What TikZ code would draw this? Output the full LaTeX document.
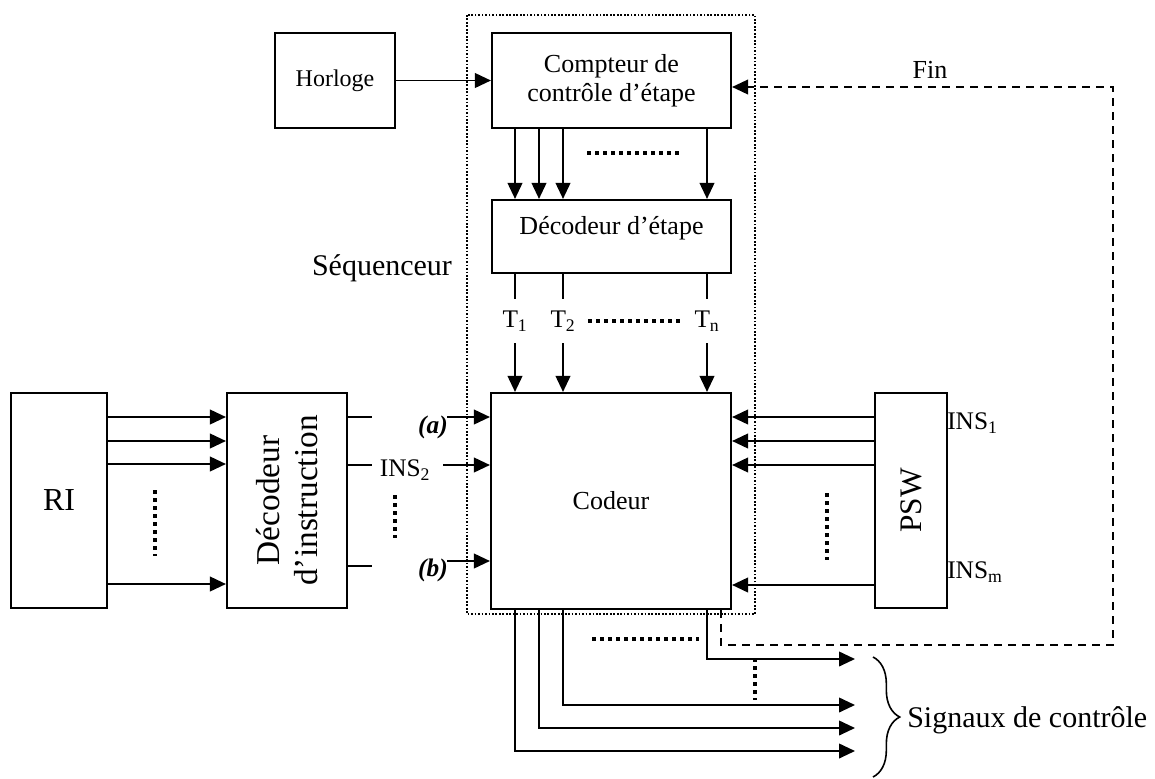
\documentclass[tikz,border=0pt]{standalone}
\usepackage{fontspec}
\setmainfont{Liberation Serif}
\usetikzlibrary{arrows.meta,decorations.pathreplacing}

\begin{document}
\begin{tikzpicture}[x=0.75pt,y=-0.75pt,>={Triangle[length=12pt,width=11pt]},
    box/.style={draw,line width=1.6pt,inner sep=0pt,align=center,
      font=\fontsize{19.5pt}{22pt}\selectfont},
    wire/.style={line width=1.4pt},
    ell/.style={line width=3pt,dash pattern=on 3pt off 3pt},
    finline/.style={line width=1.3pt,dash pattern=on 6pt off 4.5pt},
    lab/.style={inner sep=0pt,font=\fontsize{19pt}{22pt}\selectfont},
    tlab/.style={lab,minimum height=33pt},
    big/.style={font=\fontsize{22.5pt}{26pt}\selectfont}]
  \useasboundingbox (0,0) rectangle (1155,778);

  % sequenceur
  \draw[line width=1.3pt,dash pattern=on 1.3pt off 1.3pt] (467,15) rectangle (755,614);
  \node[big] (seq) at (382,268) {Séquenceur};

  \node[box,minimum width=90pt,minimum height=71.25pt,
    font=\fontsize{18pt}{21pt}\selectfont] (horloge) at (335,80.5) {Horloge};
  \node[box,minimum width=179.25pt,minimum height=71.25pt] (compteur) at (611.5,80.5)
    {Compteur de\\contrôle d'étape};
  \node[box,minimum width=179.25pt,minimum height=54.75pt] (decetape) at (611.5,236.5) {};
  \node[lab,font=\fontsize{19.5pt}{22pt}\selectfont] (decetapelab) at (611.5,228) {Décodeur d'étape};
  \node[box,minimum width=180pt,minimum height=162pt] (codeur) at (611,501) {Codeur};
  \node[box,minimum width=72pt,minimum height=161.25pt,
    font=\fontsize{24pt}{28pt}\selectfont] (ri) at (59,500.5) {RI};
  \node[box,minimum width=90pt,minimum height=161.25pt] (decinstr) at (287,500.5) {};
  \node[rotate=90,align=center,inner sep=0pt,font=\fontsize{25pt}{28.5pt}\selectfont]
    (decinstrlab) at (287,500.5) {Décodeur\\d'instruction};
  \node[box,minimum width=54pt,minimum height=161.25pt] (psw) at (911,500.5) {};
  \node[rotate=90,inner sep=0pt,font=\fontsize{23.5pt}{27pt}\selectfont]
    (pswlab) at (911,500.5) {PSW};

  \draw[wire,->] (horloge.east) -- (compteur.west |- horloge.east);

  \foreach \x in {515,539,563,707}{
    \coordinate (k) at (\x,0);
    \draw[wire,->] (compteur.south -| k) -- (decetape.north -| k);
  }
  \draw[ell] (587,153) -- (680,153);

  \foreach \x/\n/\s in {515/t1/1,563/t2/2,707/tn/n}{
    \node[tlab] (\n) at (\x,321) {T\textsubscript{\s}};
    \draw[wire] (decetape.south -| \n) -- (\n.north);
    \draw[wire,->] (\n.south) -- (codeur.north -| \n);
  }
  \draw[ell] (588,321) -- (680,321);

  % RI vers decodeur
  \foreach \y in {417,441,464,584}{
    \coordinate (k) at (0,\y);
    \draw[wire,->] (ri.east |- k) -- (decinstr.west |- k);
  }
  \draw[ell] (155,490) -- (155,556);

  \foreach \y in {417,465,566}{
    \coordinate (k) at (372,\y);
    \draw[wire] (decinstr.east |- k) -- (k);
  }
  \node[lab,font=\fontsize{19pt}{22pt}\bfseries\itshape] (a) at (433,427) {(a)};
  \node[lab,font=\fontsize{19pt}{22pt}\bfseries\itshape] (b) at (433,570) {(b)};
  \node[lab] (ins2) at (405,470) {INS\textsubscript{2}};
  \coordinate (ka) at (447,417);
  \coordinate (k2) at (443,465);
  \coordinate (kb) at (447,561);
  \draw[wire,->] (ka) -- (codeur.west |- ka);
  \draw[wire,->] (k2) -- (codeur.west |- k2);
  \draw[wire,->] (kb) -- (codeur.west |- kb);
  \draw[ell] (395,495) -- (395,538);

  % PSW vers codeur
  \foreach \y in {417,441,465,585}{
    \coordinate (k) at (0,\y);
    \draw[wire,->] (psw.west |- k) -- (codeur.east |- k);
  }
  \draw[ell] (827,493) -- (827,560);
  \node[lab,anchor=west] (ins1) at (947,423) {INS\textsubscript{1}};
  \node[lab,anchor=west] (insm) at (947,572) {INS\textsubscript{m}};

  % fin
  \coordinate (fa) at (721,645);
  \coordinate (fb) at (1113,645);
  \coordinate (fc) at (1113,87);
  \draw[finline,->] (codeur.south -| fa) -- (fa) -- (fb) -- (fc) -- (compteur.east |- fc);
  \node[lab,font=\fontsize{19.5pt}{22pt}\selectfont] (fin) at (930,70) {Fin};

  % signaux
  \foreach \x/\y in {515/751,539/728,563/705,707/659}{
    \coordinate (o) at (\x,\y);
    \coordinate (e) at (855,\y);
    \draw[wire,->] (codeur.south -| o) |- (e);
  }
  \draw[ell] (592,639) -- (699,639);
  \draw[ell] (755,658) -- (755,700);
  \draw[line width=1.2pt,decorate,decoration={brace,amplitude=20pt}] (873,657) -- (873,777);
  \node[big,anchor=west,inner sep=0pt] (sig) at (907,720) {Signaux de contrôle};
\end{tikzpicture}
\end{document}
